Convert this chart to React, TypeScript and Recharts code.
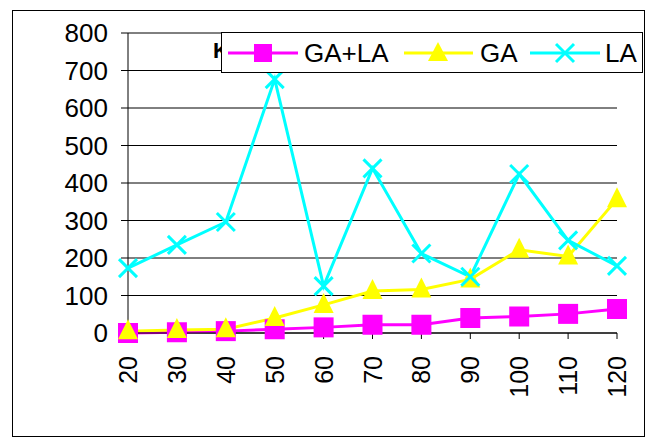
import React from 'react';
import { LineChart, Line, XAxis, YAxis, CartesianGrid, Legend } from 'recharts';

const categories = ['20', '30', '40', '50', '60', '70', '80', '90', '100', '110', '120'];
const gaLaValues = [0, 2, 5, 10, 15, 22, 22, 40, 44, 51, 64];
const gaValues = [5, 8, 10, 40, 75, 112, 116, 143, 222, 204, 357];
const laValues = [173, 235, 296, 677, 125, 439, 212, 150, 424, 247, 179];
const yTicks = [0, 100, 200, 300, 400, 500, 600, 700, 800];

const FONT = '"Liberation Sans", Arial, sans-serif';
const MAGENTA = '#FF00FF';
const YELLOW = '#FFFF00';
const CYAN = '#00FFFF';

const data = categories.map((c, i) => ({
  cat: c,
  gaLa: gaLaValues[i],
  ga: gaValues[i],
  la: laValues[i],
}));

const SquareDot = (props: any) => {
  const { cx, cy, index } = props;
  return <rect key={`s${index}`} x={cx - 10} y={cy - 10} width={20} height={20} fill={MAGENTA} />;
};

const TriangleDot = (props: any) => {
  const { cx, cy, index } = props;
  return (
    <polygon
      key={`t${index}`}
      points={`${cx},${cy - 12} ${cx + 10},${cy + 8} ${cx - 10},${cy + 8}`}
      fill={YELLOW}
    />
  );
};

const CrossDot = (props: any) => {
  const { cx, cy, index } = props;
  return (
    <g key={`x${index}`} stroke={CYAN} strokeWidth={3}>
      <line x1={cx - 9} y1={cy - 9} x2={cx + 9} y2={cy + 9} />
      <line x1={cx - 9} y1={cy + 9} x2={cx + 9} y2={cy - 9} />
    </g>
  );
};

const RotatedTick = (props: any) => {
  const { x, y, payload } = props;
  const ty = y + 15;
  return (
    <text
      x={x}
      y={ty}
      dy="0.36em"
      transform={`rotate(-90, ${x}, ${ty})`}
      textAnchor="end"
      fontSize={25}
      fontFamily={FONT}
      fill="#000"
    >
      {payload.value}
    </text>
  );
};

const LegendBox = () => (
  <div style={{ width: 422, height: 41, background: '#fff', border: '1px solid #000', boxSizing: 'border-box' }}>
    <svg width={420} height={39} style={{ display: 'block' }}>
      <g fontFamily={FONT} fontSize={26} fill="#000">
        <line x1={6} y1={20} x2={76} y2={20} stroke={MAGENTA} strokeWidth={3} />
        <rect x={32} y={11} width={18} height={18} fill={MAGENTA} />
        <text x={82} y={29}>GA+LA</text>
        <line x1={182} y1={20} x2={251} y2={20} stroke={YELLOW} strokeWidth={3} />
        <polygon points="216,9 226,28 206,28" fill={YELLOW} />
        <text x={258} y={29}>GA</text>
        <line x1={308} y1={20} x2={378} y2={20} stroke={CYAN} strokeWidth={3} />
        <g stroke={CYAN} strokeWidth={3}>
          <line x1={334} y1={11} x2={352} y2={29} />
          <line x1={334} y1={29} x2={352} y2={11} />
        </g>
        <text x={383} y={29}>LA</text>
      </g>
    </svg>
  </div>
);

export default function App() {
  return (
    <div style={{ position: 'relative', width: 648, height: 442, background: '#fff' }}>
      <style>{'body{margin:0}'}</style>
      {/* outer frame */}
      <div
        style={{
          position: 'absolute',
          left: 12,
          top: 10,
          width: 633,
          height: 427,
          border: '1px solid #000',
          boxSizing: 'border-box',
        }}
      />
      {/* title, mostly hidden behind the legend */}
      <div
        style={{
          position: 'absolute',
          left: 213,
          top: 38,
          fontFamily: FONT,
          fontWeight: 'bold',
          fontSize: 22,
        }}
      >
        K
      </div>
      <LineChart
        width={648}
        height={442}
        data={data}
        margin={{ top: 33, right: 31, bottom: 49, left: 68 }}
      >
        <CartesianGrid vertical={false} stroke="#000" strokeWidth={1} />
        <XAxis
          dataKey="cat"
          stroke="#000"
          tickSize={6}
          tickMargin={2}
          interval={0}
          tick={<RotatedTick />}
          height={60}
        />
        <YAxis
          domain={[0, 800]}
          ticks={yTicks}
          width={60}
          stroke="#000"
          tickSize={7}
          tickMargin={13}
          interval={0}
          tick={{ fontSize: 26, fontFamily: FONT, fill: '#000' }}
        />
        <Legend
          layout="horizontal"
          verticalAlign="middle"
          align="center"
          wrapperStyle={{ position: 'absolute', left: 221, top: 32, width: 422, height: 41 }}
          content={() => <LegendBox />}
        />
        <Line
          type="linear"
          dataKey="gaLa"
          stroke={MAGENTA}
          strokeWidth={3}
          dot={<SquareDot />}
          isAnimationActive={false}
        />
        <Line
          type="linear"
          dataKey="ga"
          stroke={YELLOW}
          strokeWidth={3}
          dot={<TriangleDot />}
          isAnimationActive={false}
        />
        <Line
          type="linear"
          dataKey="la"
          stroke={CYAN}
          strokeWidth={3}
          dot={<CrossDot />}
          isAnimationActive={false}
        />
      </LineChart>
    </div>
  );
}
